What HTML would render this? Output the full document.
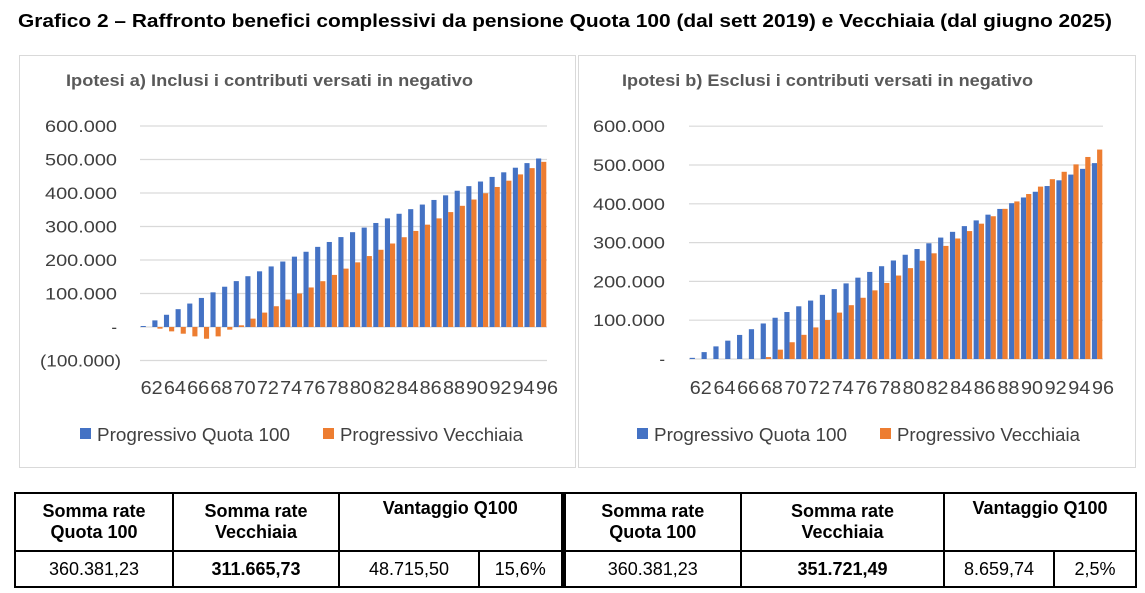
<!DOCTYPE html>
<html><head><meta charset="utf-8"><style>
body{margin:0;width:1145px;height:593px;background:#fff;font-family:"Liberation Sans",sans-serif;overflow:hidden;position:relative}
svg{position:absolute;left:0;top:0}
table{position:absolute;left:14px;top:492px;border-collapse:collapse;font-size:18px;color:#000}
td{border:2px solid #000;text-align:center;padding:0;height:34px}
</style></head><body>
<svg id="s" width="1145" height="593" font-family="Liberation Sans, sans-serif">
<text x="18" y="27" font-weight="bold" font-size="18.5" textLength="1094" lengthAdjust="spacingAndGlyphs">Grafico 2 – Raffronto benefici complessivi da pensione Quota 100 (dal sett 2019) e Vecchiaia (dal giugno 2025)</text>
<rect x="19.5" y="55.5" width="556" height="412" fill="none" stroke="#d9d9d9"/>
<rect x="578.5" y="55.5" width="557" height="412" fill="none" stroke="#d9d9d9"/>
<text x="66" y="86" font-weight="bold" font-size="17" fill="#595959" textLength="407" lengthAdjust="spacingAndGlyphs">Ipotesi a) Inclusi i contributi versati in negativo</text>
<text x="622" y="86" font-weight="bold" font-size="17" fill="#595959" textLength="411" lengthAdjust="spacingAndGlyphs">Ipotesi b) Esclusi i contributi versati in negativo</text>
<g font-size="18" fill="#404040">
<rect x="80" y="428" width="11" height="11" fill="#4472c4"/><text x="97" y="441" textLength="193" lengthAdjust="spacingAndGlyphs">Progressivo Quota 100</text>
<rect x="323" y="428" width="11" height="11" fill="#ed7d31"/><text x="340" y="441" textLength="183" lengthAdjust="spacingAndGlyphs">Progressivo Vecchiaia</text>
<rect x="637" y="428" width="11" height="11" fill="#4472c4"/><text x="654" y="441" textLength="193" lengthAdjust="spacingAndGlyphs">Progressivo Quota 100</text>
<rect x="880" y="428" width="11" height="11" fill="#ed7d31"/><text x="897" y="441" textLength="183" lengthAdjust="spacingAndGlyphs">Progressivo Vecchiaia</text>
</g>
<g id="g"></g>
</svg>
<table>
<colgroup><col style="width:158px"><col style="width:166px"><col style="width:140px"><col style="width:84px"><col style="width:178px"><col style="width:203px"><col style="width:110px"><col style="width:82px"></colgroup>
<tr style="font-weight:bold;height:58px"><td>Somma rate<br>Quota 100</td><td>Somma rate<br>Vecchiaia</td><td colspan="2" style="vertical-align:top;padding-top:4px">Vantaggio Q100</td><td style="border-left:5px solid #000">Somma rate<br>Quota 100</td><td>Somma rate<br>Vecchiaia</td><td colspan="2" style="vertical-align:top;padding-top:4px">Vantaggio Q100</td></tr>
<tr><td>360.381,23</td><td><b>311.665,73</b></td><td>48.715,50</td><td>15,6%</td><td style="border-left:5px solid #000">360.381,23</td><td><b>351.721,49</b></td><td>8.659,74</td><td>2,5%</td></tr>
</table>
<script>
var g=document.getElementById('g'),h='';
function interp(pts,yr){for(var i=0;i<pts.length-1;i++){var a=pts[i],b=pts[i+1];if(yr>=a[0]&&yr<=b[0])return a[1]+(b[1]-a[1])*(yr-a[0])/(b[0]-a[0]);}return 0;}
function chart(x0,w,y0,sc,labX,ticks,blue,orange){
 ticks.forEach(function(t){var y=y0-t*sc;h+='<line x1="'+x0+'" x2="'+(x0+w)+'" y1="'+y+'" y2="'+y+'" stroke="#d9d9d9" stroke-width="1.2"/>';
 var lab=t==0?'-':(t<0?'('+Math.abs(t)+'.000)':t+'.000');
 var tl=t<0?' textLength="81" lengthAdjust="spacingAndGlyphs"':(t==0?'':' textLength="72" lengthAdjust="spacingAndGlyphs"');
 var lx=t<0?labX+4:labX;
 h+='<text x="'+lx+'" y="'+(y+6)+'" text-anchor="end" font-size="17" fill="#404040"'+tl+'>'+lab+'</text>';});
 var gw=w/35;
 for(var i=0;i<35;i++){var yr=62+i,gx=x0+i*gw;
  var b=blue(yr),o=orange(yr);
  function bar(v,x,c){var y=v>=0?y0-v*sc:y0,hh=Math.abs(v)*sc;if(hh<0.3)return;h+='<rect x="'+x.toFixed(2)+'" y="'+y.toFixed(2)+'" width="'+(gw*0.44).toFixed(2)+'" height="'+hh.toFixed(2)+'" fill="'+c+'"/>';}
  bar(b,gx+gw*0.06,'#4472c4');bar(o,gx+gw*0.5,'#ed7d31');
  if(yr%2==0)h+='<text x="'+(gx+gw).toFixed(1)+'" y="394" text-anchor="middle" font-size="18" fill="#404040" textLength="22" lengthAdjust="spacingAndGlyphs">'+yr+'</text>';
 }
}
chart(140,407,327,0.335,117,[600,500,400,300,200,100,0,-100],
 function(y){return interp([[62,3],[70,137],[80,283],[96,503]],y);},
 function(y){return interp([[62,0],[63,-5],[64,-13],[65,-20],[66,-28],[67,-35],[68,-28],[69,-8],[70,5],[71,25],[72,43],[73,62],[74,82],[75,100],[76,118],[96,493]],y);});
chart(689,414,359,0.388,665,[600,500,400,300,200,100,0],
 function(y){return 3+14.76*(y-62);},
 function(y){return y<68?0:5+19.1*(y-68);});
g.innerHTML=h;
</script>
</body></html>
